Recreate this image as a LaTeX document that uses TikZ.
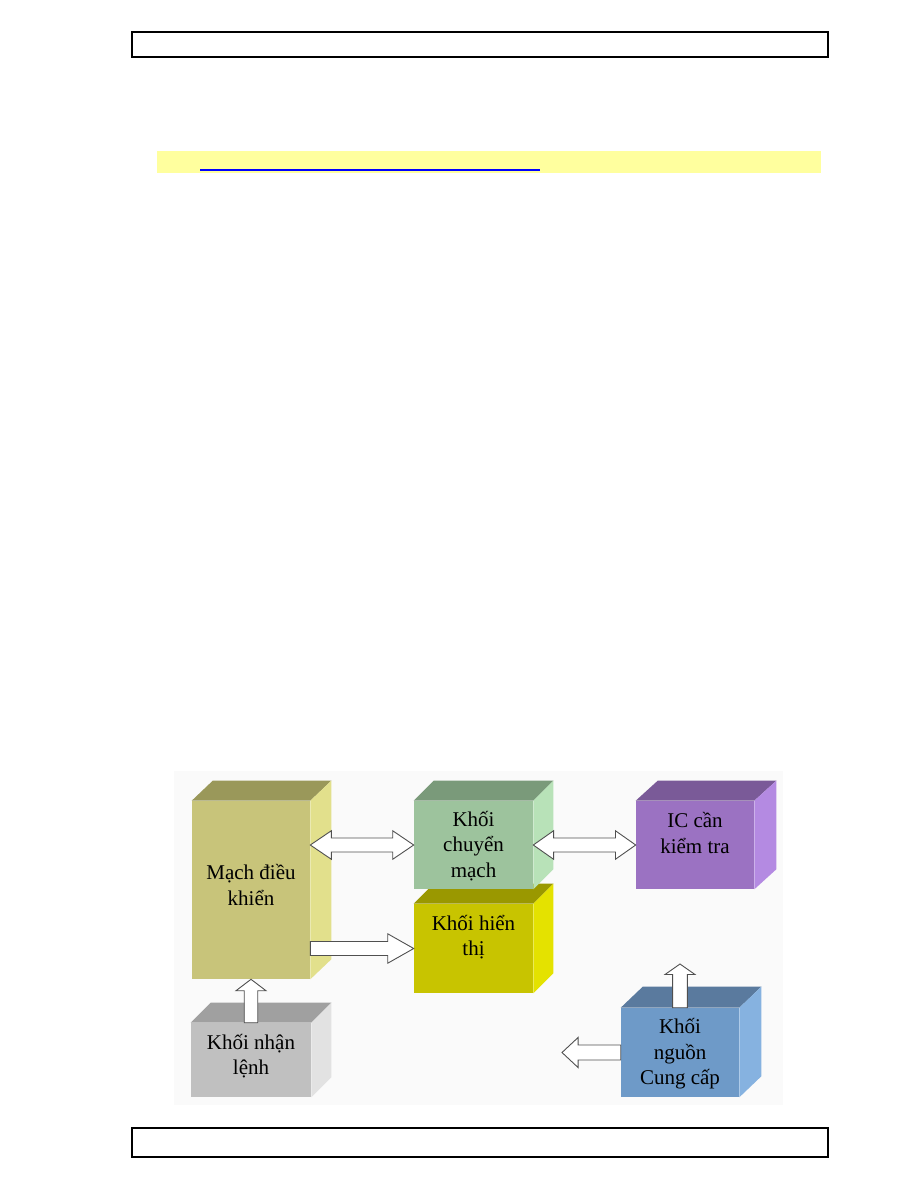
\documentclass[tikz,border=0pt]{standalone}
\usepackage{fontspec}
\setmainfont{Liberation Serif}
\usetikzlibrary{calc}
\definecolor{bgc}{HTML}{FAFAFA}
\definecolor{hiyel}{HTML}{FFFF9E}
\definecolor{linkblue}{HTML}{0000FF}
\definecolor{arrline}{HTML}{505050}
\definecolor{mF}{HTML}{C8C47A}\definecolor{mT}{HTML}{9A985A}\definecolor{mS}{HTML}{E2E08C}
\definecolor{cF}{HTML}{9DC39D}\definecolor{cT}{HTML}{7A9A7A}\definecolor{cS}{HTML}{B8E2B8}
\definecolor{hF}{HTML}{C8C400}\definecolor{hT}{HTML}{9A9800}\definecolor{hS}{HTML}{E4E200}
\definecolor{iF}{HTML}{9B72C2}\definecolor{iT}{HTML}{7A5A98}\definecolor{iS}{HTML}{B48AE2}
\definecolor{nF}{HTML}{C0C0C0}\definecolor{nT}{HTML}{A0A0A0}\definecolor{nS}{HTML}{E2E2E2}
\definecolor{gF}{HTML}{6E9AC8}\definecolor{gT}{HTML}{5A7A9E}\definecolor{gS}{HTML}{86B2E0}
\tikzset{
  facebox/.style={rectangle, inner sep=0pt, draw=none},
  boxlabel/.style={align=center, font=\fontsize{14pt}{17pt}\selectfont, text=black},
  blockarrow/.style={draw=arrline, fill=white, line width=0.6pt, line join=miter},
  pagerect/.style={draw=black, line width=0.8pt},
}
% cuboid faces: #1 node, #2 dx, #3 dy, #4 top colour, #5 side colour
\newcommand\cubefaces[5]{%
  \fill[#4] (#1.north west) -- ++(#2,#3) -- ($(#1.north east)+(#2,#3)$) -- (#1.north east) -- cycle;
  \fill[#5] (#1.north east) -- ++(#2,#3) -- ($(#1.south east)+(#2,#3)$) -- (#1.south east) -- cycle;
}
\begin{document}
\begin{tikzpicture}[x=0.6667pt, y=-0.6667pt]
\useasboundingbox (0,0) rectangle (918,1188);
\fill[white] (0,0) rectangle (918,1188);
% page header / footer frames
\draw[pagerect] (132,32) rectangle (828,57);
\fill[hiyel] (157,151) rectangle (821,173);
\draw[linkblue, line width=1pt] (200,170) -- (540,170);
\draw[pagerect] (132,1128) rectangle (828,1157);
% picture background
\fill[bgc] (174,771) rectangle (783,1105);

% boxes
\node[facebox, fill=hF, minimum width=79.33pt, minimum height=59.33pt] (ht) at (473.5,948.5) {};
\cubefaces{ht}{20}{-20}{hT}{hS}
\node[facebox, fill=mF, minimum width=78.67pt, minimum height=118.67pt] (mach) at (251,890) {};
\cubefaces{mach}{21}{-20}{mT}{mS}
\node[facebox, fill=cF, minimum width=79.33pt, minimum height=58.67pt] (cm) at (473.5,845) {};
\cubefaces{cm}{20}{-20}{cT}{cS}
\node[facebox, fill=iF, minimum width=78.67pt, minimum height=58.67pt] (ic) at (695,845) {};
\cubefaces{ic}{22}{-20}{iT}{iS}
\node[facebox, fill=nF, minimum width=80pt, minimum height=49.33pt] (nl) at (251,1060) {};
\cubefaces{nl}{20}{-20}{nT}{nS}
\node[facebox, fill=gF, minimum width=78.67pt, minimum height=59.33pt] (ng) at (680,1052.5) {};
\cubefaces{ng}{22}{-21}{gT}{gS}

% labels
\node[boxlabel] (tmach) at (251,885) {Mạch điều\\khiển};
\node[boxlabel] (tcm) at (473.5,846) {Khối\\chuyển\\mạch};
\node[boxlabel] (tht) at (473.5,937) {Khối hiển\\thị};
\node[boxlabel] (tic) at (695,833) {IC cần\\kiểm tra};
\node[boxlabel] (tnl) at (251,1056) {Khối nhận\\lệnh};
\node[boxlabel] (tng) at (680,1054) {Khối\\nguồn\\Cung cấp};

% free ends
\coordinate (pwrup) at (680,964);
\coordinate (pwrleft) at (562,1052.5);

% double arrow: Mạch <-> Khối chuyển mạch
\draw[blockarrow] let \p1=(mach.east |- cm.west), \p2=(cm.west) in
  (\x1,\y1) -- (\x1+14pt,\y1+9.5pt) -- (\x1+14pt,\y1+4.67pt) -- (\x2-14pt,\y1+4.67pt)
  -- (\x2-14pt,\y1+9.5pt) -- (\x2,\y1) -- (\x2-14pt,\y1-9.5pt) -- (\x2-14pt,\y1-4.67pt)
  -- (\x1+14pt,\y1-4.67pt) -- (\x1+14pt,\y1-9.5pt) -- cycle;
% double arrow: Khối chuyển mạch <-> IC
\draw[blockarrow] let \p1=(cm.east), \p2=(ic.west) in
  (\x1,\y1) -- (\x1+13.5pt,\y1+9.5pt) -- (\x1+13.5pt,\y1+4.67pt) -- (\x2-13.5pt,\y1+4.67pt)
  -- (\x2-13.5pt,\y1+9.5pt) -- (\x2,\y1) -- (\x2-13.5pt,\y1-9.5pt) -- (\x2-13.5pt,\y1-4.67pt)
  -- (\x1+13.5pt,\y1-4.67pt) -- (\x1+13.5pt,\y1-9.5pt) -- cycle;
% single arrow: Mạch -> Khối hiển thị
\draw[blockarrow] let \p1=(mach.east |- ht.west), \p2=(ht.west) in
  (\x1,\y1+4.67pt) -- (\x2-17.3pt,\y1+4.67pt) -- (\x2-17.3pt,\y1+9.8pt) -- (\x2,\y1)
  -- (\x2-17.3pt,\y1-9.8pt) -- (\x2-17.3pt,\y1-4.67pt) -- (\x1,\y1-4.67pt) -- cycle;
% up arrow: Khối nhận lệnh -> Mạch
\draw[blockarrow] let \p1=(nl.north), \p2=(nl.north |- mach.south) in
  (\x1-4.5pt,\y1) -- (\x1-4.5pt,\y2-7.6pt) -- (\x1-10pt,\y2-7.6pt) -- (\x1,\y2)
  -- (\x1+10pt,\y2-7.6pt) -- (\x1+4.5pt,\y2-7.6pt) -- (\x1+4.5pt,\y1) -- cycle;
% up arrow: Khối nguồn -> (up)
\draw[blockarrow] let \p1=(ng.north), \p2=(pwrup) in
  (\x1-4.9pt,\y1) -- (\x1-4.9pt,\y2-7pt) -- (\x1-10pt,\y2-7pt) -- (\x1,\y2)
  -- (\x1+10pt,\y2-7pt) -- (\x1+4.9pt,\y2-7pt) -- (\x1+4.9pt,\y1) -- cycle;
% left arrow: Khối nguồn -> (left)
\draw[blockarrow] let \p1=(ng.west), \p2=(pwrleft) in
  (\x1,\y1+5pt) -- (\x2+10.7pt,\y1+5pt) -- (\x2+10.7pt,\y1+10pt) -- (\x2,\y1)
  -- (\x2+10.7pt,\y1-10pt) -- (\x2+10.7pt,\y1-5pt) -- (\x1,\y1-5pt) -- cycle;
\end{tikzpicture}
\end{document}
